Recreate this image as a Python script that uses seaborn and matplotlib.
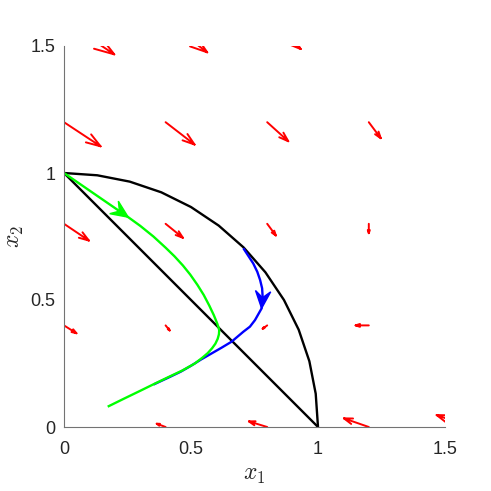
import numpy as np
import pandas as pd
import matplotlib
matplotlib.use("Agg")
import matplotlib.pyplot as plt
from matplotlib.patches import Polygon
import seaborn as sns

sns.set_style("white")
plt.rcParams['font.family'] = ['Liberation Sans', 'DejaVu Sans']
plt.rcParams['mathtext.fontset'] = 'cm'

# quiver field (base points and vectors)
qx = [0.0, 0.4, 0.8, 1.2, 0.0, 0.4, 0.8, 1.2, 0.0, 0.4, 0.8, 1.2, 0.0, 0.4, 0.8, 1.2, 0.4, 0.8, 1.2, 1.6]
qy = [1.6, 1.6, 1.6, 1.6, 1.2, 1.2, 1.2, 1.2, 0.8, 0.8, 0.8, 0.8, 0.4, 0.4, 0.4, 0.4, 0.0, 0.0, 0.0, 0.0]
qu = [0.198, 0.164, 0.132, 0.070, 0.144, 0.114, 0.083, 0.047, 0.098, 0.068, 0.034, 0.0,
      0.049, 0.016, -0.018, -0.052, -0.035, -0.072, -0.098, -0.133]
qv = [-0.133, -0.125, -0.112, -0.090, -0.095, -0.088, -0.075, -0.063, -0.066, -0.055, -0.046, -0.037,
      -0.031, -0.020, -0.013, 0.0, 0.013, 0.022, 0.034, 0.047]

# quarter circle polyline
circ_x = [0.0, 0.131, 0.259, 0.383, 0.500, 0.609, 0.707, 0.793, 0.866, 0.924, 0.966, 0.991, 1.0]
circ_y = [1.0, 0.991, 0.966, 0.924, 0.866, 0.793, 0.707, 0.609, 0.500, 0.383, 0.259, 0.131, 0.0]

# straight line x1 + x2 = 1
line_x = [0.0, 1.0]
line_y = [1.0, 0.0]

# green trajectory
green_x = [0.0, 0.125, 0.253, 0.300, 0.352, 0.400, 0.435, 0.468, 0.497, 0.525, 0.550, 0.572, 0.590,
           0.603, 0.609, 0.611, 0.610, 0.605, 0.596, 0.583, 0.566, 0.545, 0.515, 0.465, 0.410,
           0.352, 0.299, 0.235, 0.172]
green_y = [1.0, 0.914, 0.826, 0.792, 0.750, 0.706, 0.672, 0.636, 0.600, 0.560, 0.520, 0.478, 0.440,
           0.408, 0.390, 0.380, 0.365, 0.347, 0.328, 0.310, 0.291, 0.273, 0.250, 0.222, 0.196,
           0.168, 0.142, 0.111, 0.080]

# blue trajectory
blue_x = [0.706, 0.745, 0.761, 0.772, 0.780, 0.782, 0.778, 0.752, 0.732, 0.706, 0.680, 0.660,
          0.620, 0.580, 0.540, 0.500, 0.460, 0.410, 0.352]
blue_y = [0.704, 0.644, 0.611, 0.579, 0.546, 0.513, 0.467, 0.421, 0.395, 0.375, 0.353, 0.336,
          0.312, 0.289, 0.266, 0.241, 0.218, 0.194, 0.167]

ticks = [0, 0.5, 1, 1.5]
tick_labels = ['0', '0.5', '1', '1.5']

fig = plt.figure(figsize=(4.91, 4.91), dpi=100)
ax = fig.add_axes([64 / 491, 64 / 491, 381 / 491, 381 / 491])

# red quiver arrows, MATLAB style heads
alpha, beta = 0.33, 0.33
segx, segy = [], []
for x, y, u, v in zip(qx, qy, qu, qv):
    tx, ty = x + u, y + v
    segx += [x, tx, np.nan,
             tx - alpha * (u + beta * v), tx, tx - alpha * (u - beta * v), np.nan]
    segy += [y, ty, np.nan,
             ty - alpha * (v - beta * u), ty, ty - alpha * (v + beta * u), np.nan]
ax.plot(segx, segy, color='red', lw=1.4)

lw = 1.7
style = dict(sort=False, estimator=None, lw=lw, ax=ax, solid_joinstyle='round', solid_capstyle='butt')
sns.lineplot(x=circ_x, y=circ_y, color='black', **style)
sns.lineplot(x=line_x, y=line_y, color='black', **style)
sns.lineplot(x=blue_x, y=blue_y, color='blue', **style)
sns.lineplot(x=green_x, y=green_y, color='#00ff00', **style)


def head(xs, ys, i, color, L=0.068, hw=0.03):
    # concave arrowhead at point i, pointing along the curve
    d = np.array([xs[i] - xs[i - 1], ys[i] - ys[i - 1]])
    d = d / np.hypot(*d)
    n = np.array([-d[1], d[0]])
    tip = np.array([xs[i], ys[i]])
    pts = [tip, tip - L * d + hw * n, tip - 0.62 * L * d, tip - L * d - hw * n]
    ax.add_patch(Polygon(pts, closed=True, color=color, zorder=5))


head(green_x, green_y, 2, '#00ff00')
head(blue_x, blue_y, 6, 'blue')

ax.set_xlim(0, 1.5)
ax.set_ylim(0, 1.5)
ax.set_xticks(ticks)
ax.set_xticklabels(tick_labels)
ax.set_yticks(ticks)
ax.set_yticklabels(tick_labels)
ax.tick_params(direction='in', length=4, width=0.8, color='0.45', labelsize=13,
               labelcolor='#262626')
ax.tick_params(axis='x', pad=10)
ax.tick_params(axis='y', pad=6)
for s in ['top', 'right']:
    ax.spines[s].set_visible(False)
for s in ['left', 'bottom']:
    ax.spines[s].set_color('0.45')
    ax.spines[s].set_linewidth(0.8)

ax.set_xlabel('$x_1$', fontsize=17, color='#262626')
ax.set_ylabel('$x_2$', fontsize=17, color='#262626')
ax.xaxis.set_label_coords(0.5, -0.097)
ax.yaxis.set_label_coords(-0.10, 0.5)

fig.savefig('out.png', dpi=100)
